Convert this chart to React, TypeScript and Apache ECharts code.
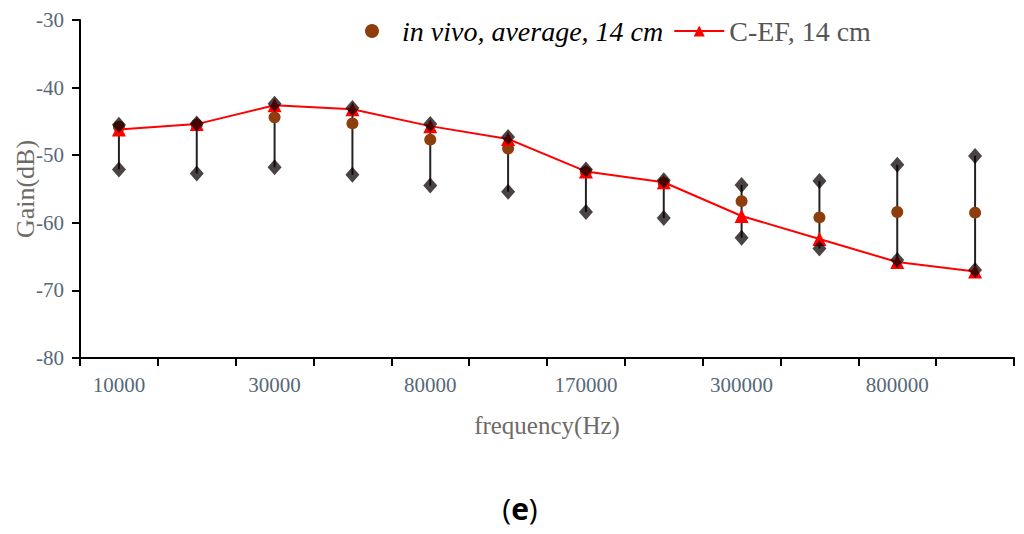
import { useEffect, useRef } from "react";
import * as echarts from "echarts";

const SERIF = "'Liberation Serif', 'Times New Roman', Times, serif";
const LABEL = "#566878";
const NAME = "#6E6A66";

// frequency categories (only every other one is labelled on the axis)
const freqs = ["10000", "20000", "30000", "50000", "80000", "100000", "170000", "200000", "300000", "500000", "800000", "1000000"];

// C-EF model, 14 cm
const cef = [-46.2, -45.4, -42.6, -43.2, -45.7, -47.6, -52.4, -54.0, -59.0, -62.4, -65.8, -67.2];
// in vivo average, 14 cm
const invivo = [-45.8, -45.5, -44.4, -45.3, -47.7, -49.0, -52.5, -54.1, -56.8, -59.2, -58.4, -58.5];
// in vivo range (max / min)
const upper = [-45.5, -45.3, -42.4, -43.0, -45.4, -47.3, -52.1, -53.7, -54.4, -53.8, -51.4, -50.1];
const lower = [-52.1, -52.7, -51.8, -52.9, -54.5, -55.4, -58.4, -59.3, -62.2, -63.8, -65.5, -67.0];

const IN_VIVO = "in vivo, average, 14 cm";
const C_EF = "C-EF, 14 cm";

function buildOption() {
  const rangeData = freqs.map((_, i) => [i, lower[i], upper[i]]);
  return {
    animation: false,
    textStyle: { fontFamily: SERIF },
    grid: { left: 80, right: 10, top: 20, bottom: 176, containLabel: false, outerBoundsMode: "none" },
    legend: {
      left: 360,
      top: 12,
      itemGap: 10,
      itemWidth: 50,
      itemHeight: 14,
      data: [
        { name: IN_VIVO, textStyle: { fontStyle: "italic", color: "#000", fontSize: 28, fontFamily: SERIF } },
        { name: C_EF, textStyle: { color: "#555", fontSize: 28, fontFamily: SERIF } },
      ],
    },
    xAxis: {
      type: "category",
      data: freqs,
      boundaryGap: true,
      name: "frequency(Hz)",
      nameLocation: "middle",
      nameGap: 55,
      nameMoveOverlap: false,
      nameTextStyle: { color: NAME, fontSize: 25, fontFamily: SERIF },
      axisLine: { lineStyle: { color: "#000", width: 2 } },
      axisTick: { show: true, interval: 0, length: 8, lineStyle: { color: "#000", width: 2 } },
      axisLabel: { interval: 1, color: LABEL, fontSize: 21, margin: 16, fontFamily: SERIF },
      splitLine: { show: false },
    },
    yAxis: {
      type: "value",
      min: -80,
      max: -30,
      interval: 10,
      name: "Gain(dB)",
      nameLocation: "middle",
      nameGap: 42,
      nameMoveOverlap: false,
      nameRotate: 90,
      nameTextStyle: { color: NAME, fontSize: 26, fontFamily: SERIF },
      axisLine: { show: true, lineStyle: { color: "#000", width: 2 } },
      axisTick: { show: true, length: 8, lineStyle: { color: "#000", width: 2 } },
      axisLabel: { color: LABEL, fontSize: 21, margin: 16, fontFamily: SERIF },
      splitLine: { show: false },
    },
    graphic: [
      {
        type: "text",
        x: 520,
        y: 508,
        style: {
          text: "{a|(}{b|e}{a|)}",
          align: "center",
          verticalAlign: "middle",
          rich: {
            a: { fontSize: 30, fontFamily: "'Open Sans', sans-serif", fill: "#000" },
            b: { fontSize: 30, fontWeight: "bold", fontFamily: "'Open Sans', sans-serif", fill: "#000" },
          },
        },
      },
    ],
    series: [
      {
        type: "custom",
        name: "range",
        z: 1,
        silent: true,
        data: rangeData,
        encode: { x: 0, y: [1, 2] },
        renderItem: (params: any, api: any) => {
          const i = api.value(0);
          const lo = api.coord([i, api.value(1)]);
          const hi = api.coord([i, api.value(2)]);
          return {
            type: "line",
            shape: { x1: lo[0], y1: lo[1], x2: hi[0], y2: hi[1] },
            style: { stroke: "#222", lineWidth: 2 },
          };
        },
      },
      {
        type: "scatter",
        name: IN_VIVO,
        z: 2,
        data: invivo,
        symbol: "circle",
        symbolSize: 12,
        itemStyle: { color: "#8E3E0C", opacity: 1 },
      },
      {
        type: "line",
        name: C_EF,
        z: 3,
        data: cef,
        symbol: "triangle",
        symbolSize: 14,
        showAllSymbol: true,
        lineStyle: { color: "#FF0000", width: 2 },
        itemStyle: { color: "#FF0000" },
      },
      {
        type: "scatter",
        name: "max",
        z: 4,
        data: upper,
        symbol: "diamond",
        symbolSize: [14, 16],
        itemStyle: { color: "rgba(10,0,0,0.92)" },
      },
      {
        type: "scatter",
        name: "min",
        z: 4,
        data: lower,
        symbol: "diamond",
        symbolSize: [14, 16],
        itemStyle: { color: "rgba(10,0,0,0.92)" },
      },
    ],
  };
}

export default function App() {
  const ref = useRef<HTMLDivElement>(null);

  useEffect(() => {
    if (!ref.current) return;
    const chart = echarts.init(ref.current, null, { renderer: "svg" });
    chart.setOption(buildOption());
    return () => chart.dispose();
  }, []);

  return (
    <div
      ref={ref}
      style={{ position: "absolute", left: 0, top: 0, width: 1024, height: 534, background: "#fff" }}
    />
  );
}
